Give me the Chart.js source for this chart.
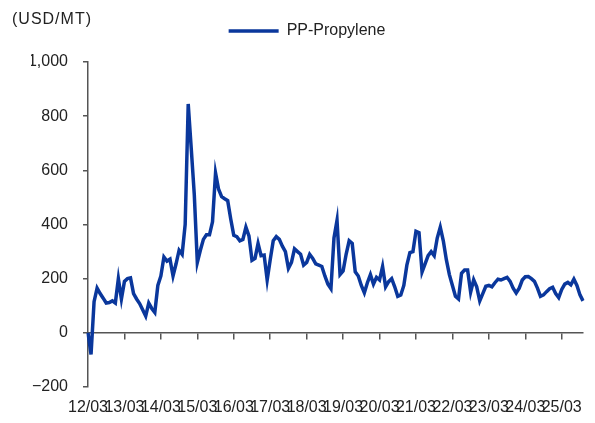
<!DOCTYPE html>
<html>
<head>
<meta charset="utf-8">
<script src="https://cdn.jsdelivr.net/npm/chart.js@4.4.1/dist/chart.umd.min.js"></script>
<style>
  html, body { margin: 0; padding: 0; background: #fff; }
  #wrap { position: relative; width: 595px; height: 423px; }
  #unit { position: absolute; left: 12px; top: 10px; font: 16px "Liberation Sans", Arial, sans-serif; letter-spacing: 1px; color: #222; }
</style>
</head>
<body>
<div id="wrap">
  <canvas id="c" width="595" height="423"></canvas>
  <div id="unit">(USD/MT)</div>
</div>
<script>
// PP - Propylene Spread, monatlich ab 2012/03 (USD/MT)
const SERIES_NAME = 'PP-Propylene';
const START_YEAR = 2012;
const START_MONTH = 3;

const SPREAD = [
  0, -80, 115, 165, 145, 128, 110, 112, 118, 110,
  200, 125, 190, 200, 203, 145, 125, 108, 85, 62,
  110, 90, 75, 175, 210, 280, 265, 272, 210, 255,
  305, 290, 400, 845, 680, 510, 260, 305, 345, 362,
  362, 410, 590, 530, 503, 495, 488, 420, 360, 355,
  340, 345, 390, 358, 268, 275, 330, 285, 287, 195,
  270, 340, 355, 345, 320, 300, 238, 260, 310, 300,
  290, 250, 260, 290, 275, 255, 250, 245, 210, 180,
  163, 350, 415, 215, 228, 290, 340, 330, 225, 210,
  175, 148, 185, 215, 180, 205, 195, 245, 170, 189,
  200, 170, 135, 140, 175, 250, 296, 300, 375, 370,
  225, 255, 285, 300, 285, 350, 390, 340, 270, 215,
  175, 135, 125, 220, 232, 232, 150, 196, 170, 118,
  145, 172, 175, 170, 185, 198, 195, 200, 205, 190,
  165, 147, 165, 195, 207, 208, 200, 190, 165, 135,
  140, 152, 163, 168, 145, 130, 160, 180, 186, 177,
  198, 175, 140, 118
];

// 'YY/MM' pro Monat
const MONTHS = SPREAD.map((_, i) => {
  const m = START_MONTH - 1 + i;
  const yy = (START_YEAR + Math.floor(m / 12)) % 100;
  const mm = (m % 12) + 1;
  return String(yy).padStart(2, '0') + '/' + String(mm).padStart(2, '0');
});

const Y_MIN = -200;
const Y_MAX = 1000;
const Y_STEP = 200;

const BLUE = '#0a379c';
const AXIS = '#555';
const TEXT = '#222';
const FONT = { family: '"Liberation Sans", Arial, sans-serif', size: 16 };
const NONE = 'rgba(0,0,0,0)';

// nur Maerz bekommt Tick + Beschriftung
const isYearTick = (i) => MONTHS[i] && MONTHS[i].endsWith('/03');

// etwas Luft zwischen Legende und Plotflaeche
const legendGap = {
  id: 'legendGap',
  beforeInit(chart) {
    const fit = chart.legend.fit;
    chart.legend.fit = function () {
      fit.call(this);
      this.height += 13;
    };
  },
};

const canvas = document.getElementById('c');

new Chart(canvas, {
  type: 'line',
  data: {
    labels: MONTHS,
    datasets: [{
      label: SERIES_NAME,
      data: SPREAD,
      borderColor: BLUE,
      backgroundColor: BLUE,
      borderWidth: 3.5,
      pointRadius: 0,
      tension: 0,
      xAxisID: 'x',
      yAxisID: 'y',
    }],
  },
  plugins: [legendGap],
  options: {
    responsive: false,
    animation: false,
    layout: { padding: { left: 31, right: 12, top: 0, bottom: 6 } },
    plugins: {
      legend: {
        labels: { boxWidth: 50, boxHeight: 0, font: FONT, color: TEXT, padding: 23 },
      },
      tooltip: { enabled: false },
    },
    scales: {
      // Achse auf der Nulllinie, Jahres-Ticks nach unten
      x: {
        display: true,
        position: { y: 0 },
        ticks: { display: false },
        grid: {
          display: true,
          drawOnChartArea: false,
          tickLength: 6,
          lineWidth: 1.5,
          color: (ctx) => (isYearTick(ctx.index) ? AXIS : NONE),
        },
        border: { display: true, color: AXIS, width: 1.5 },
      },
      // Beschriftung ganz unten
      x2: {
        type: 'category',
        position: 'bottom',
        grid: { display: false, drawTicks: false },
        border: { display: false },
        ticks: {
          autoSkip: false,
          maxRotation: 0,
          minRotation: 0,
          padding: 11,
          font: FONT,
          color: TEXT,
          callback: (v, i) => (isYearTick(i) ? MONTHS[i] : null),
        },
        afterFit: (s) => { s.height = 30; },
      },
      y: {
        min: Y_MIN,
        max: Y_MAX,
        ticks: {
          stepSize: Y_STEP,
          padding: 15,
          font: FONT,
          color: TEXT,
          callback: (v) => (v < 0 ? '\u2212' : '') + Math.abs(v).toLocaleString('en-US'),
        },
        grid: { drawOnChartArea: false, tickLength: 5, color: AXIS, lineWidth: 1.5 },
        border: { color: AXIS, width: 1.5 },
        afterFit: (s) => { s.width = 57; },
      },
    },
  },
});

// Canvas einmal zuruecklesen: ohne das fehlte im Screenshot die Nulllinie
canvas.getContext('2d').getImageData(0, 0, canvas.width, canvas.height);
</script>
</body>
</html>
